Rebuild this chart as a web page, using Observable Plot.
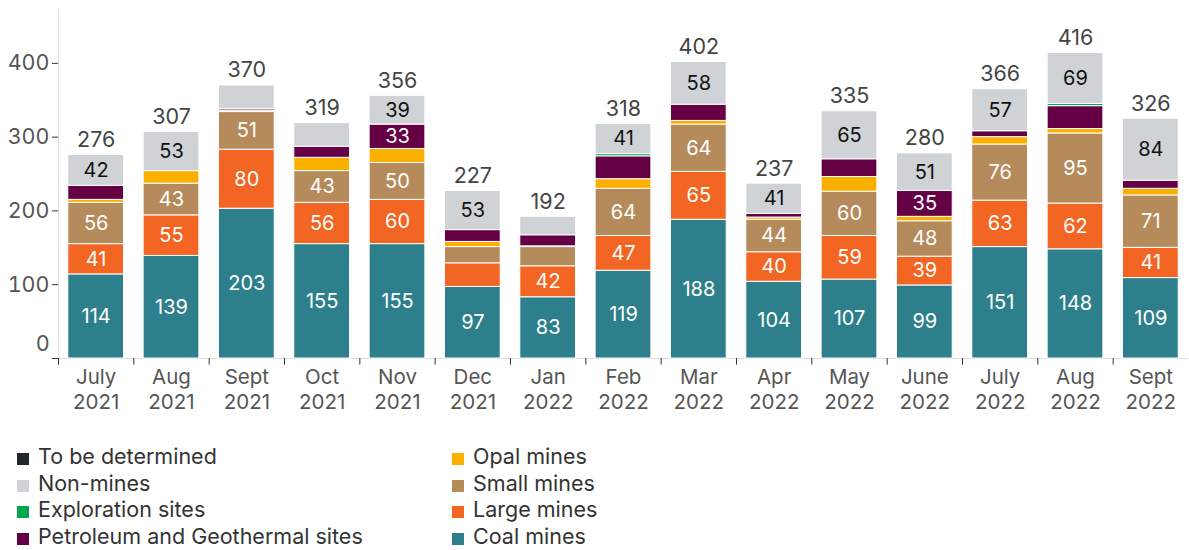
<!DOCTYPE html>
<html>
<head>
<meta charset="utf-8">
<script src="https://cdn.jsdelivr.net/npm/d3@7"></script>
<script src="https://cdn.jsdelivr.net/npm/@observablehq/plot@0.6"></script>
<style>
  body { margin: 0; background: #fff; font-family: Inter, "Noto Sans", sans-serif; }
  #chart svg { display: block; }
  #legend { position: relative; width: 1189px; height: 130px; }
  .item { position: absolute; height: 26px; line-height: 26px; font-size: 21.5px; color: #333; white-space: nowrap; }
  .sw { display: inline-block; width: 12px; height: 12px; margin-right: 9px; vertical-align: -1px; }
</style>
</head>
<body>
<div id="chart"></div>
<div id="legend"></div>
<script>
const months = ["July 2021","Aug 2021","Sept 2021","Oct 2021","Nov 2021","Dec 2021","Jan 2022","Feb 2022","Mar 2022","Apr 2022","May 2022","June 2022","July 2022","Aug 2022","Sept 2022"];

const coalMines        = [114,139,203,155,155, 97, 83,119,188,104,107, 99,151,148,109];
const largeMines       = [ 41, 55, 80, 56, 60, 32, 42, 47, 65, 40, 59, 39, 63, 62, 41];
const smallMines       = [ 56, 43, 51, 43, 50, 22, 26, 64, 64, 44, 60, 48, 76, 95, 71];
const opalMines        = [  4, 17,  2, 18, 19,  7,  1, 13,  5,  3, 20,  6, 10,  6,  9];
const petroleumSites   = [ 19,  0,  2, 15, 33, 16, 15, 31, 22,  5, 24, 35,  8, 31, 11];
const explorationSites = [  0,  0,  0,  0,  0,  0,  0,  3,  0,  0,  0,  0,  0,  3,  0];
const nonMines         = [ 42, 53, 32, 32, 39, 53, 25, 41, 58, 41, 65, 51, 57, 69, 84];
const toBeDetermined   = [  0,  0,  0,  0,  0,  0,  0,  0,  0,  0,  0,  0,  0,  0,  0];
const totals           = [276,307,370,319,356,227,192,318,402,237,335,280,366,416,326];

const seriesNames = ["Coal mines","Large mines","Small mines","Opal mines","Petroleum and Geothermal sites","Exploration sites","Non-mines","To be determined"];
const seriesValues = [coalMines, largeMines, smallMines, opalMines, petroleumSites, explorationSites, nonMines, toBeDetermined];
const seriesColors = ["#2e7f8c","#f26522","#b58b5c","#fbb000","#650045","#00a94f","#cfd3d6","#22272b"];

const data = [];
seriesNames.forEach((s, k) => months.forEach((m, i) => data.push({month: m, series: s, value: seriesValues[k][i]})));
const sums = months.map((m, i) => seriesValues.reduce((a, arr) => a + arr[i], 0));

const W = 1189, H = 420, ML = 58, MR = 1, MT = 9, MB = 62;
const yMax = 473;
const step = (W - ML - MR) / months.length;

const chart = Plot.plot({
  width: W, height: H,
  marginLeft: ML, marginRight: MR, marginTop: MT, marginBottom: MB,
  style: {fontFamily: "Inter, 'Noto Sans', sans-serif", fontSize: "20px", color: "#555", background: "white"},
  x: {domain: months, paddingInner: 0.26, paddingOuter: 0.13, round: false, label: null},
  y: {domain: [0, yMax], label: null},
  color: {domain: seriesNames, range: seriesColors},
  marks: [
    Plot.ruleY([0], {stroke: "#ddd"}),
    Plot.ruleX([months[0]], {x: d => d, dx: -step / 2, y1: 0, y2: yMax, stroke: "#ddd"}),
    Plot.barY(data, {x: "month", y: "value", fill: "series", z: "series", order: seriesNames, stroke: "white", strokeWidth: 1}),
    Plot.text(data, Plot.stackY({x: "month", y: "value", z: "series", order: seriesNames,
      text: d => (d.series !== "Non-mines" && d.value >= 33) ? String(d.value) : null,
      fill: "white", fontSize: 20})),
    Plot.text(data, Plot.stackY({x: "month", y: "value", z: "series", order: seriesNames,
      text: d => (d.series === "Non-mines" && d.value >= 33) ? String(d.value) : null,
      fill: "#111", fontSize: 20})),
    Plot.text(months, {x: d => d, y: (d, i) => sums[i], text: (d, i) => String(totals[i]), dy: -15, fill: "#444", fontSize: 21.5}),
    Plot.ruleX(months, {x: d => d, dx: -step / 2, y1: 0, y2: -9, stroke: "#333"}),
    Plot.axisY({ticks: [0, 100, 200, 300, 400], tickFormat: d => d === 0 ? "" : String(d), tickSize: 6, tickPadding: 3, fontSize: 21.5, stroke: "#333", fill: "#555"}),
    Plot.text([0], {y: d => d, frameAnchor: "left", text: () => "0", dx: -9, dy: -14, textAnchor: "end", fontSize: 21.5, fill: "#555"}),
    Plot.axisX({tickSize: 0, tickPadding: 8, tickFormat: d => d.replace(" ", "\n"), lineHeight: 1.2, fontSize: 20.5, fill: "#555", label: null})
  ]
});
document.getElementById("chart").appendChild(chart);

const legendCols = [
  ["To be determined", "Non-mines", "Exploration sites", "Petroleum and Geothermal sites"],
  ["Opal mines", "Small mines", "Large mines", "Coal mines"]
];
const legend = document.getElementById("legend");
const colX = [17, 452];
const rowCenters = [36, 62.5, 89, 116];
legendCols.forEach((col, c) => col.forEach((name, r) => {
  const div = document.createElement("div");
  div.className = "item";
  div.style.left = colX[c] + "px";
  div.style.top = (rowCenters[r] - 13) + "px";
  const sw = document.createElement("span");
  sw.className = "sw";
  sw.style.background = seriesColors[seriesNames.indexOf(name)];
  div.appendChild(sw);
  div.appendChild(document.createTextNode(name));
  legend.appendChild(div);
}));
</script>
</body>
</html>
